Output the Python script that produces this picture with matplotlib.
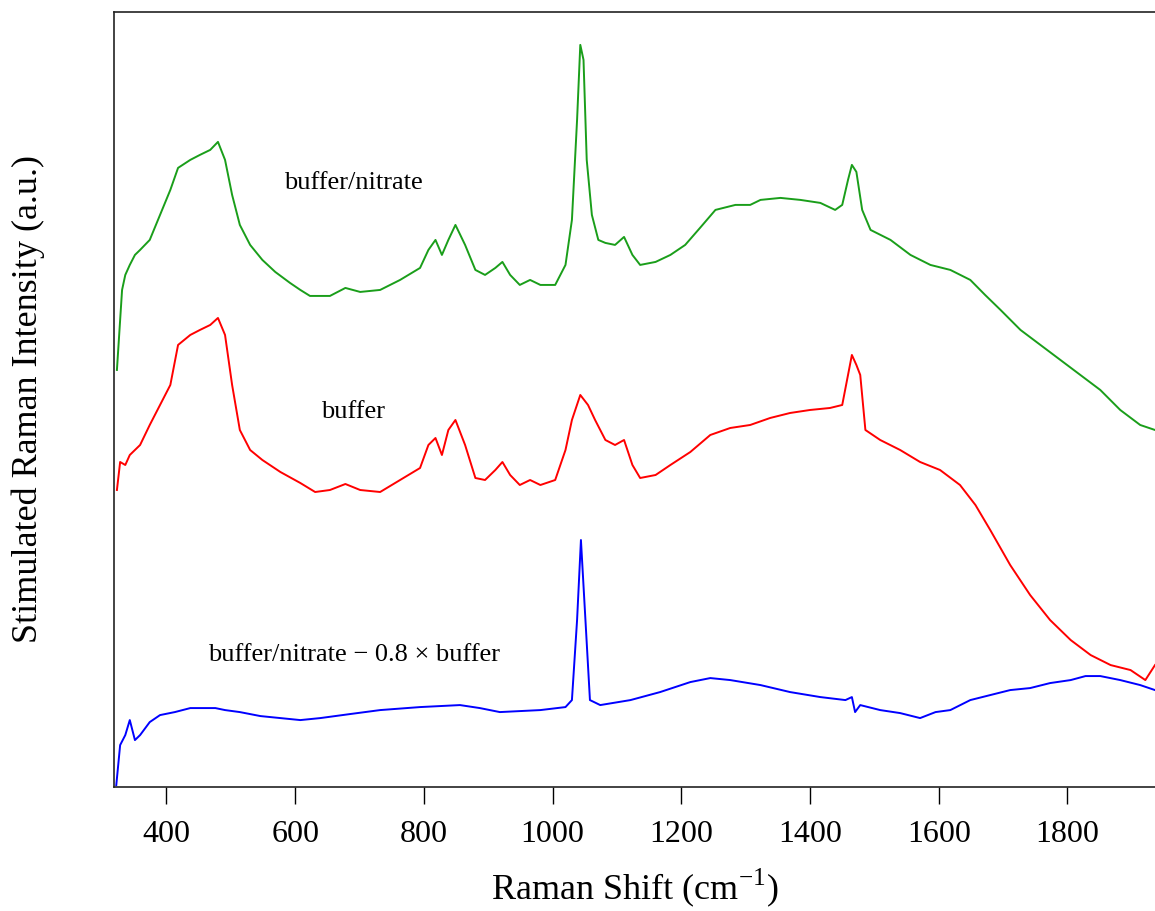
import matplotlib.pyplot as plt

plt.rcParams['font.family'] = ['Liberation Serif', 'DejaVu Serif']
plt.rcParams['mathtext.fontset'] = 'custom'
plt.rcParams['mathtext.rm'] = 'Liberation Serif'

# Raman shift (cm-1) and intensity (a.u., offset traces)
nitrate_x = [323, 331, 336, 343, 351, 359, 374, 390, 406, 418, 437, 452, 468, 480,
             491, 502, 514, 530, 549, 569, 592, 608, 623, 654, 678, 701, 732, 763,
             794, 807, 818, 828, 838, 849, 864, 880, 895, 911, 922, 934, 949, 965,
             981, 1004, 1020, 1030, 1038, 1043, 1048, 1053, 1061, 1071, 1082, 1097,
             1111, 1124, 1136, 1160, 1183, 1206, 1229, 1253, 1284, 1307, 1323, 1354,
             1385, 1416, 1439, 1450, 1459, 1465, 1472, 1481, 1494, 1525, 1556, 1587,
             1618, 1649, 1672, 1696, 1727, 1758, 1789, 1820, 1851, 1882, 1913, 1936]
nitrate_y = [417, 497, 512, 522, 532, 537, 547, 572, 597, 619, 627, 632, 637, 645,
             627, 592, 562, 542, 527, 515, 504, 497, 491, 491, 499, 495, 497, 507,
             519, 537, 547, 532, 547, 562, 542, 517, 512, 519, 525, 512, 502, 507,
             502, 502, 522, 567, 667, 742, 727, 627, 572, 547, 544, 542,
             550, 532, 522, 525, 532, 542, 559, 577, 582, 582, 587, 589,
             587, 584, 577, 582, 607, 622, 615, 577, 557, 547, 532, 522,
             517, 507, 492, 477, 457, 442, 427, 412, 397, 377, 362, 357]

buffer_x = [323, 328, 336, 343, 359, 374, 390, 406, 418, 437, 452, 468, 480, 491,
            502, 514, 530, 549, 577, 608, 631, 654, 678, 701, 732, 763, 794, 807,
            818, 828, 838, 849, 864, 880, 895, 911, 922, 934, 949, 965, 981, 1004,
            1020, 1030, 1043, 1055, 1066, 1082, 1097, 1111, 1124, 1136, 1160, 1183,
            1214, 1245, 1276, 1307, 1338, 1369, 1400, 1431, 1450, 1459, 1465, 1472,
            1478, 1486, 1509, 1540, 1571, 1602, 1633, 1657, 1680, 1711, 1742, 1773,
            1805, 1836, 1867, 1898, 1921, 1936]
buffer_y = [297, 325, 322, 332, 342, 362, 382, 402, 442, 452, 457, 462, 469, 452,
            402, 357, 337, 327, 315, 304, 295, 297, 303, 297, 295, 307, 319, 342,
            349, 332, 357, 367, 342, 309, 307, 317, 325, 312, 302, 307, 302, 307,
            337, 367, 392, 382, 367, 347, 342, 347, 322, 309, 312, 322,
            335, 352, 359, 362, 369, 374, 377, 379, 382, 412, 432, 422,
            412, 357, 347, 337, 325, 317, 302, 282, 257, 222, 192, 167,
            147, 132, 122, 117, 107, 122]

diff_x = [322, 328, 336, 343, 351, 359, 374, 390, 413, 437, 476, 491, 514, 546,
          577, 608, 639, 685, 732, 794, 856, 887, 918, 981, 1020, 1030, 1038, 1044,
          1051, 1058, 1074, 1121, 1167, 1214, 1245, 1276, 1323, 1369, 1416, 1455,
          1465, 1470, 1478, 1509, 1540, 1571, 1595, 1618, 1649, 1680, 1711, 1742,
          1773, 1805, 1828, 1851, 1882, 1913, 1936]
diff_y = [2, 42, 52, 67, 47, 52, 65, 72, 75, 79, 79, 77, 75, 71,
          69, 67, 69, 73, 77, 80, 82, 79, 75, 77, 80, 87, 167, 247,
          167, 87, 82, 87, 95, 105, 109, 107, 102, 95, 90, 87,
          90, 75, 82, 77, 74, 69, 75, 77, 87, 92, 97, 99,
          104, 107, 111, 111, 107, 102, 97]

labels = ['buffer/nitrate', 'buffer', 'buffer/nitrate \u2212 0.8 \u00d7 buffer']
label_x = [691, 690, 691]
label_y = [604, 375, 132]
colors = ['#1a9e1a', '#ff0000', '#0000ff']

fig = plt.figure(figsize=(11.55, 9.11), dpi=100)
ax = fig.add_axes([0.099, 0.136, 0.901, 0.851])

ax.plot(nitrate_x, nitrate_y, color=colors[0], lw=1.4)
ax.plot(buffer_x, buffer_y, color=colors[1], lw=1.4)
ax.plot(diff_x, diff_y, color=colors[2], lw=1.4)

for t, x, y in zip(labels, label_x, label_y):
    ax.text(x, y, t, ha='center', va='center', fontsize=19)

ax.set_xlim(319, 1936)
ax.set_ylim(0, 775)
ax.set_xticks([400, 600, 800, 1000, 1200, 1400, 1600, 1800])
ax.set_yticks([])
ax.tick_params(axis='x', direction='out', length=12, width=1, pad=12, labelsize=23)
ax.spines['right'].set_visible(False)
for s in ['left', 'bottom', 'top']:
    ax.spines[s].set_linewidth(1.2)
    ax.spines[s].set_color('#222222')

ax.set_xlabel('Raman Shift (cm$^{\\mathrm{-1}}$)', fontsize=26, labelpad=12)
ax.set_ylabel('Stimulated Raman Intensity (a.u.)', fontsize=26, labelpad=50)

fig.savefig('out.png', dpi=100)
